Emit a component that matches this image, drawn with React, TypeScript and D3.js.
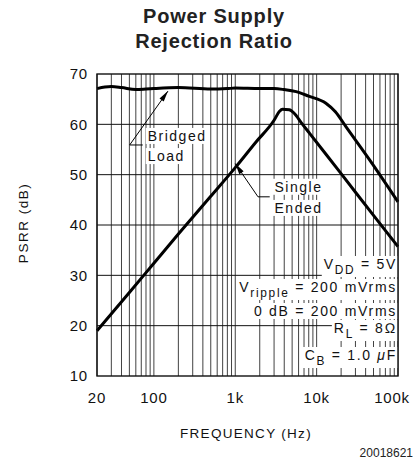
import React, { useRef, useEffect } from 'react';
import * as d3 from 'd3';

// PSRR vs frequency
const bridgedFreq = [20, 25, 30, 40, 60, 80, 100, 200, 500, 800, 1000, 2000, 3000, 4000, 5600, 8000, 13000, 17000, 23000, 45000, 100000];
const bridgedDb = [67.1, 67.4, 67.5, 67.3, 66.9, 67.0, 67.1, 67.3, 67.0, 67.1, 67.2, 67.1, 67.1, 66.9, 66.5, 65.6, 64.2, 62.5, 59.5, 52.9, 44.6];

const singleFreq = [20, 50, 100, 200, 500, 1000, 1800, 3000, 3500, 3800, 4600, 5300, 6500, 8200, 20000, 50000, 100000];
const singleDb = [19.0, 26.6, 32.4, 38.2, 45.7, 51.4, 56.5, 60.8, 62.6, 63.0, 62.9, 62.2, 60.3, 58.2, 50.2, 41.9, 35.7];

const xTickValues = [20, 100, 1000, 10000, 100000];
const xTickLabels = ['20', '100', '1k', '10k', '100k'];
const yTickValues = [10, 20, 30, 40, 50, 60, 70];

type Part = { t: string; sub?: boolean; italic?: boolean };
const conditionLines: Part[][] = [
  [{ t: 'V' }, { t: 'DD', sub: true }, { t: ' = 5V' }],
  [{ t: 'V' }, { t: 'ripple', sub: true }, { t: ' = 200 mVrms' }],
  [{ t: '0 dB = 200 mVrms' }],
  [{ t: 'R' }, { t: 'L', sub: true }, { t: ' = 8\u2126' }],
  [{ t: 'C' }, { t: 'B', sub: true }, { t: ' = 1.0 ' }, { t: '\u03bc', italic: true }, { t: 'F' }],
];

const W = 419;
const H = 470;
const plot = { left: 97, right: 398, top: 74, bottom: 376 };
const condBaselines = [269, 292, 316, 333, 360];
const FONT = '"Liberation Sans", Arial, sans-serif';

export default function App() {
  const svgRef = useRef<SVGSVGElement>(null);

  useEffect(() => {
    if (!svgRef.current) return;
    const svg = d3.select(svgRef.current);
    svg.selectAll('*').remove();

    const x = d3.scaleLog().domain([20, 100000]).range([plot.left, plot.right]);
    const y = d3.scaleLinear().domain([10, 70]).range([plot.bottom, plot.top]);

    const grid = svg.append('g');
    const bg = svg.append('g');
    const labels = svg.append('g');
    const curves = svg.append('g');
    const frame = svg.append('g');

    // grid
    x.ticks().forEach(f => {
      grid.append('line')
        .attr('x1', x(f)).attr('x2', x(f))
        .attr('y1', plot.top).attr('y2', plot.bottom)
        .attr('stroke', '#111').attr('stroke-width', 0.8);
    });
    yTickValues.slice(1, -1).forEach(v => {
      grid.append('line')
        .attr('x1', plot.left).attr('x2', plot.right)
        .attr('y1', y(v)).attr('y2', y(v))
        .attr('stroke', '#111').attr('stroke-width', 1);
    });

    // text with white box behind it
    const addText = (px: number, py: number, parts: Part[], anchor: string, size: number, spacing: number) => {
      const t = labels.append('text')
        .attr('x', px).attr('y', py)
        .attr('text-anchor', anchor)
        .attr('font-family', FONT)
        .attr('font-size', size)
        .attr('letter-spacing', spacing)
        .attr('fill', '#111');
      let shifted = false;
      parts.forEach(p => {
        const s = t.append('tspan').text(p.t);
        if (p.sub && !shifted) { s.attr('dy', 5).attr('font-size', size * 0.85); shifted = true; }
        else if (!p.sub && shifted) { s.attr('dy', -5); shifted = false; }
        if (p.italic) s.attr('font-style', 'italic');
      });
      const b = (t.node() as SVGTextElement).getBBox();
      bg.append('rect')
        .attr('x', b.x - 2).attr('y', b.y)
        .attr('width', b.width + 3).attr('height', b.height)
        .attr('fill', '#fff');
    };

    // curve labels
    addText(x(84), y(56.7), [{ t: 'Bridged' }], 'start', 14, 1.5);
    addText(x(84), y(52.7), [{ t: 'Load' }], 'start', 14, 1.5);
    addText(x(3040), y(46.6), [{ t: 'Single' }], 'start', 14, 1.5);
    addText(x(3040), y(42.4), [{ t: 'Ended' }], 'start', 14, 1.5);

    // conditions
    conditionLines.forEach((parts, i) => {
      addText(plot.right - 1, condBaselines[i], parts, 'end', 14, 1.7);
    });

    // curves
    const line = d3.line<[number, number]>()
      .x(d => x(d[0])).y(d => y(d[1]))
      .curve(d3.curveMonotoneX);
    curves.append('path')
      .attr('d', line(bridgedFreq.map((f, i) => [f, bridgedDb[i]]))!)
      .attr('fill', 'none').attr('stroke', '#000').attr('stroke-width', 3)
      .attr('stroke-linejoin', 'round');
    curves.append('path')
      .attr('d', line(singleFreq.map((f, i) => [f, singleDb[i]]))!)
      .attr('fill', 'none').attr('stroke', '#000').attr('stroke-width', 3)
      .attr('stroke-linejoin', 'round');

    // leader arrows: tip, elbow, tail end
    const arrow = (tip: [number, number], elbow: [number, number], tail: [number, number]) => {
      const tx = x(tip[0]), ty = y(tip[1]);
      const ex = x(elbow[0]), ey = y(elbow[1]);
      curves.append('polyline')
        .attr('points', `${x(tail[0])},${ey} ${ex},${ey} ${tx},${ty}`)
        .attr('fill', 'none').attr('stroke', '#000').attr('stroke-width', 1);
      const dx = ex - tx, dy = ey - ty;
      const len = Math.hypot(dx, dy);
      const ux = dx / len, uy = dy / len;
      const L = 11, w = 2.6;
      const bx = tx + ux * L, by = ty + uy * L;
      curves.append('polygon')
        .attr('points', `${tx},${ty} ${bx - uy * w},${by + ux * w} ${bx + uy * w},${by - ux * w}`)
        .attr('fill', '#000');
    };
    arrow([149, 66.6], [50.4, 55.9], [73, 55.9]);
    arrow([1000, 52.2], [1904, 45.6], [2652, 45.6]);

    // frame
    frame.append('rect')
      .attr('x', plot.left).attr('y', plot.top)
      .attr('width', plot.right - plot.left).attr('height', plot.bottom - plot.top)
      .attr('fill', 'none').attr('stroke', '#111').attr('stroke-width', 1.4);

    // axes labels
    yTickValues.forEach(v => {
      svg.append('text')
        .attr('x', plot.left - 9).attr('y', y(v)).attr('dy', '0.36em')
        .attr('text-anchor', 'end')
        .attr('font-family', FONT).attr('font-size', 15).attr('letter-spacing', 0.8)
        .attr('fill', '#111')
        .text(String(v));
    });
    xTickValues.forEach((v, i) => {
      svg.append('text')
        .attr('x', x(v) - (i === xTickValues.length - 1 ? 6 : 0)).attr('y', 403)
        .attr('text-anchor', 'middle')
        .attr('font-family', FONT).attr('font-size', 15).attr('letter-spacing', 0.8)
        .attr('fill', '#111')
        .text(xTickLabels[i]);
    });

    svg.append('text')
      .attr('x', 246).attr('y', 438)
      .attr('text-anchor', 'middle')
      .attr('font-family', FONT).attr('font-size', 13.5).attr('letter-spacing', 1.3)
      .attr('fill', '#111')
      .text('FREQUENCY (Hz)');

    svg.append('text')
      .attr('transform', `translate(28,223) rotate(-90)`)
      .attr('text-anchor', 'middle')
      .attr('font-family', FONT).attr('font-size', 13.5).attr('letter-spacing', 1.5)
      .attr('fill', '#111')
      .text('PSRR (dB)');

    // title
    ['Power Supply', 'Rejection Ratio'].forEach((s, i) => {
      svg.append('text')
        .attr('x', 214).attr('y', 22.7 + i * 25)
        .attr('text-anchor', 'middle')
        .attr('font-family', FONT).attr('font-size', 20).attr('font-weight', 'bold')
        .attr('letter-spacing', 0.8)
        .attr('fill', '#222')
        .text(s);
    });

    svg.append('text')
      .attr('x', 413).attr('y', 457)
      .attr('text-anchor', 'end')
      .attr('font-family', FONT).attr('font-size', 12)
      .attr('fill', '#222')
      .text('20018621');
  }, []);

  return (
    <svg
      ref={svgRef}
      width={W}
      height={H}
      style={{ position: 'absolute', left: 0, top: 0, background: '#fff' }}
    />
  );
}
